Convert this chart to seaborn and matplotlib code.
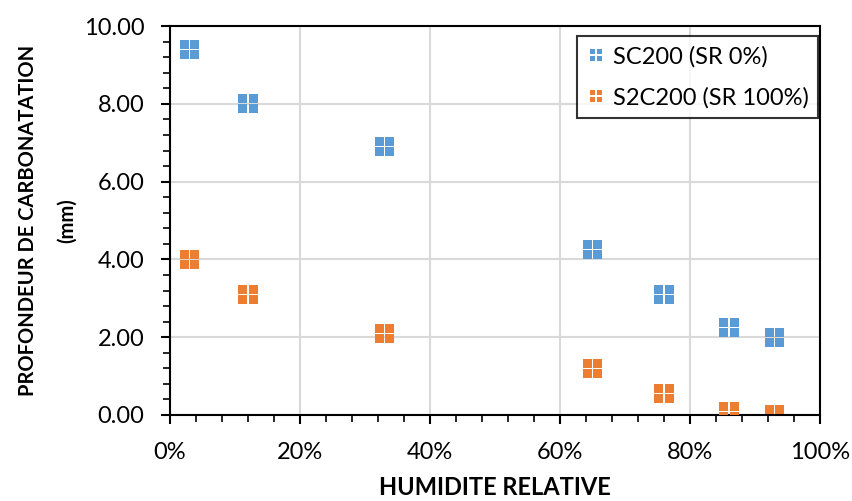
import pandas as pd
import matplotlib
matplotlib.use("Agg")
import matplotlib.pyplot as plt
import seaborn as sns
from matplotlib.path import Path
from matplotlib.ticker import MultipleLocator, FuncFormatter

# data
humidite = [3, 12, 33, 65, 76, 86, 93]
sc200 = [9.40, 8.00, 6.90, 4.25, 3.10, 2.25, 2.00]
s2c200 = [4.00, 3.10, 2.10, 1.20, 0.55, 0.10, 0.00]
series_names = ["SC200 (SR 0%)", "S2C200 (SR 100%)"]
colors = ["#5B9BD5", "#ED7D31"]

df = pd.DataFrame({
    "HR": humidite * 2,
    "depth": sc200 + s2c200,
    "serie": [series_names[0]] * len(humidite) + [series_names[1]] * len(humidite),
})


def cross_square(g):
    # square marker split by a thin white cross (four small squares)
    verts, codes = [], []
    for x0, x1 in [(-1, -g), (g, 1)]:
        for y0, y1 in [(-1, -g), (g, 1)]:
            verts += [(x0, y0), (x1, y0), (x1, y1), (x0, y1), (x0, y0)]
            codes += [Path.MOVETO, Path.LINETO, Path.LINETO, Path.LINETO, Path.CLOSEPOLY]
    return Path(verts, codes)


sns.set_style("white", {"text.color": "black", "axes.labelcolor": "black",
                        "xtick.color": "black", "ytick.color": "black"})
plt.rcParams["font.family"] = ["Lato", "DejaVu Sans"]

fig = plt.figure(figsize=(8.53, 5.01), dpi=100)
ax = fig.add_axes([0.1993, 0.1717, 0.762, 0.7763])

sns.scatterplot(data=df, x="HR", y="depth", hue="serie", palette=colors,
                marker=cross_square(0.06), s=190, linewidth=0, ax=ax, zorder=3)

ax.set_xlim(0, 100)
ax.set_ylim(0, 10)
ax.xaxis.set_major_locator(MultipleLocator(20))
ax.xaxis.set_minor_locator(MultipleLocator(4))
ax.yaxis.set_major_locator(MultipleLocator(2))
ax.yaxis.set_minor_locator(MultipleLocator(0.4))
ax.xaxis.set_major_formatter(FuncFormatter(lambda v, p: f"{v:.0f}%"))
ax.yaxis.set_major_formatter(FuncFormatter(lambda v, p: f"{v:.2f}"))

ax.grid(True, which="major", color="#D9D9D9", linewidth=1.5, zorder=0)
ax.set_axisbelow(True)
for sp in ax.spines.values():
    sp.set_visible(True)
    sp.set_color("black")
    sp.set_linewidth(1.5)

ax.tick_params(axis="both", which="major", direction="out", length=6.5, width=1.5,
               color="black", labelcolor="black", labelsize=17, bottom=True, left=True)
ax.tick_params(axis="both", which="minor", direction="out", length=5, width=1.2,
               color="black", bottom=True, left=True)
ax.tick_params(axis="x", which="major", pad=13)
ax.tick_params(axis="y", which="major", pad=12)

ax.set_xlabel("HUMIDITE RELATIVE", fontsize=17, fontweight="bold", labelpad=9,
              color="black")
ax.set_ylabel("PROFONDEUR DE CARBONATATION\n(mm)", fontsize=14.5, fontweight="bold",
              labelpad=5, linespacing=2.2, color="black")

leg = ax.legend(loc="upper right", fontsize=17, frameon=True, fancybox=False,
                edgecolor="black", borderpad=0.4, handletextpad=0.3,
                handlelength=0.8, labelspacing=0.85, markerscale=0.67,
                bbox_to_anchor=(0.997, 0.974), borderaxespad=0, labelcolor="black")
leg.get_frame().set_linewidth(1.5)
leg.set_title(None)
# keep the white cross visible on the smaller legend markers
for h in leg.legend_handles:
    h.set_marker(cross_square(0.09))

fig.savefig("out.png", dpi=100)
